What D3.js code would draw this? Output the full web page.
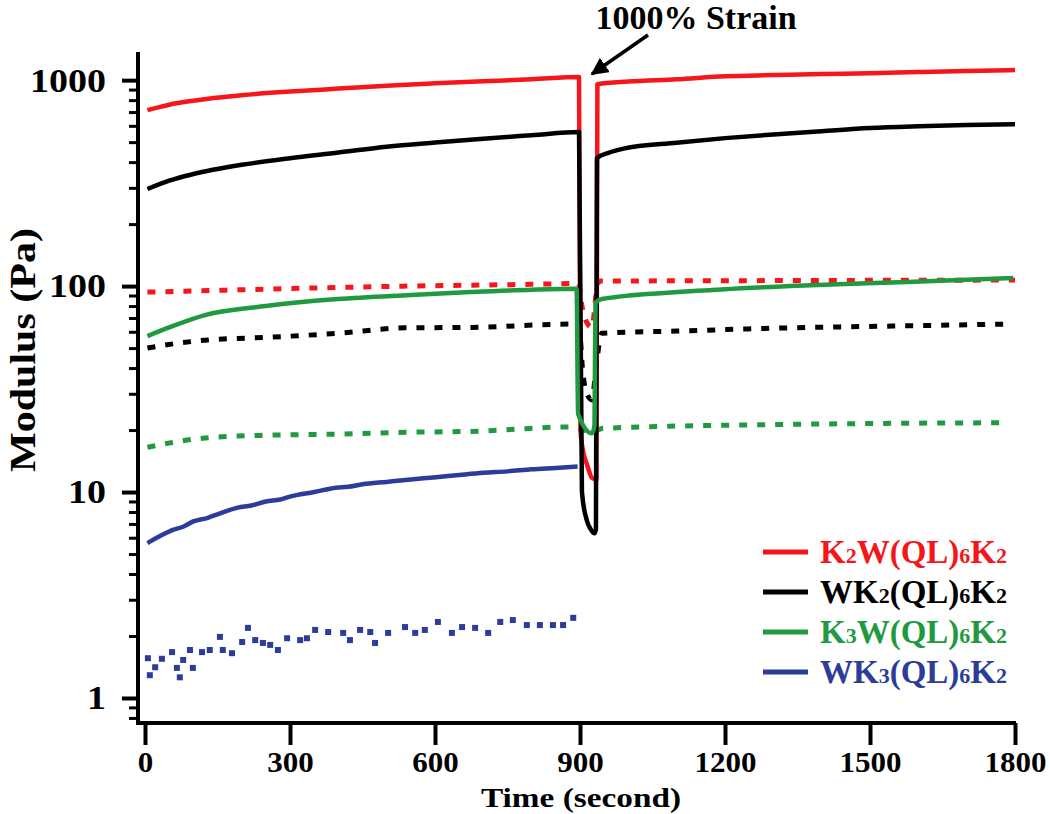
<!DOCTYPE html>
<html><head><meta charset="utf-8">
<script src="https://cdn.jsdelivr.net/npm/d3@7"></script>
<style>body{margin:0;background:#fff}svg{display:block}</style>
</head><body><svg id="c" width="1050" height="814"></svg>
<script>
// ---------- data ----------
const xTicks = [0, 300, 600, 900, 1200, 1500, 1800];
const yTicks = [1, 10, 100, 1000];
const yMinorTicks = [0.8, 0.9, 2, 3, 4, 5, 6, 7, 8, 9, 20, 30, 40, 50, 60, 70, 80, 90, 200, 300, 400, 500, 600, 700, 800, 900];
const legendLabels = ["K2W(QL)6K2", "WK2(QL)6K2", "K3W(QL)6K2", "WK3(QL)6K2"];
const colors = ["#f4161b", "#000000", "#1f9a40", "#2c3c99"];
const annotation = "1000% Strain";

// storage modulus G' (solid) and loss modulus G'' (dotted), [time s, Pa]
const K2W_G1 = [[5,715],[50,760],[100,795],[200,845],[300,880],[400,910],[500,940],[600,965],[700,988],[800,1010],[898,1035],
  [901,20],[906,16],[915,13.5],[925,11.7],[934,11.5],[936,956],[1000,985],[1100,1010],[1200,1045],[1300,1058],[1400,1070],[1500,1080],[1600,1095],[1700,1108],[1800,1120]];
const K2W_G2 = [[5,93.5],[200,96],[400,98.5],[600,100.5],[800,102],[897,103],[904,80],[915,66],[925,63],[933,90],[939,106],[1000,106],[1400,106.5],[1800,107]];
const WK2_G1 = [[5,296],[50,325],[100,350],[200,388],[300,418],[400,445],[500,475],[600,498],[700,520],[800,540],[898,560],
  [904,10],[914,7.3],[922,6.6],[930,6.3],[933,6.6],[935,418],[960,445],[990,465],[1100,497],[1200,523],[1300,545],[1400,565],[1500,585],[1600,597],[1700,606],[1800,611]];
const WK2_G2 = [[5,50],[60,52.5],[124,54.6],[261,56.5],[399,59],[538,62.7],[674,63],[881,65.4],[898,65],[905,40],[912,31],[925,28],[933,40],[945,59],[1100,60.5],[1334,62.7],[1550,64],[1790,65.4]];
const K3W_G1 = [[5,57.2],[50,63],[124,72.3],[250,80],[399,86.5],[550,90.5],[674,93.5],[800,96],[893,97],
  [896,24],[925,19.3],[930,21],[932,83],[945,86.5],[1128,94.3],[1334,100],[1577,104.8],[1796,109.4]];
const K3W_G2 = [[5,16.5],[124,18.3],[261,18.9],[399,19.1],[538,19.5],[674,19.7],[881,20.7],[925,19.6],[948,20.4],[1334,21.3],[1783,21.7]];
const WK3_G1 = [[5,5.65],[30,6.1],[54,6.5],[80,6.8],[100,7.2],[130,7.5],[150,7.8],[192,8.4],[220,8.6],[250,9.0],[280,9.2],[300,9.5],[350,10.0],[395,10.5],[420,10.6],[450,10.9],[500,11.2],[550,11.5],[602,11.8],[650,12.1],[700,12.4],[750,12.6],[800,12.9],[850,13.1],[895,13.3]];
const WK3_G2 = [[6,1.56],[10,1.29],[21,1.41],[35,1.55],[56,1.67],[66,1.40],[72,1.26],[79,1.53],[93,1.71],[99,1.40],[118,1.67],[134,1.71],[155,1.98],[161,1.71],[180,1.65],[201,1.87],[213,2.19],[228,1.91],[244,1.85],[259,1.81],[275,1.71],[294,1.95],[321,1.91],[335,1.95],[352,2.14],[379,2.09],[410,2.07],[424,1.91],[445,2.14],[466,2.09],[476,1.85],[503,2.07],[538,2.21],[559,2.07],[579,2.14],[606,2.34],[635,2.07],[656,2.21],[683,2.19],[710,2.07],[735,2.34],[761,2.39],[790,2.26],[817,2.26],[844,2.26],[865,2.26],[886,2.45]];

// ---------- chart ----------
const svg = d3.select("#c");
const font = "'Liberation Serif','Times New Roman',serif";
const x = d3.scaleLinear().domain([0, 1800]).range([145, 1015]);
const y = d3.scaleLog().domain([0.756, 1370]).range([723, 52]);

// axes
const yAxisMinor = d3.axisLeft(y).tickValues(yMinorTicks).tickSize(9).tickSizeOuter(0).tickFormat("");
const gYm = svg.append("g").attr("transform", "translate(138,0)").call(yAxisMinor);
gYm.select(".domain").remove();
gYm.selectAll("line").attr("stroke", "#000").attr("stroke-width", 3);

const yAxis = d3.axisLeft(y).tickValues(yTicks).tickSize(16).tickSizeOuter(0).tickPadding(16).tickFormat(d3.format("d"));
const gY = svg.append("g").attr("transform", "translate(138,0)").call(yAxis);
gY.select(".domain").remove();
gY.selectAll("line").attr("stroke", "#000").attr("stroke-width", 4);
gY.selectAll("text").attr("font-family", font).attr("font-weight", "bold").attr("font-size", 34).attr("fill", "#000")
  .attr("textLength", d => String(d).length * 19).attr("lengthAdjust", "spacingAndGlyphs");

const xAxis = d3.axisBottom(x).tickValues(xTicks).tickSize(22).tickSizeOuter(0).tickPadding(6).tickFormat(d3.format("d"));
const gX = svg.append("g").attr("transform", "translate(0,723)").call(xAxis);
gX.select(".domain").remove();
gX.selectAll("line").attr("stroke", "#000").attr("stroke-width", 4);
gX.selectAll("text").attr("font-family", font).attr("font-weight", "bold").attr("font-size", 29).attr("fill", "#000")
  .attr("textLength", d => String(d).length * 15.5).attr("lengthAdjust", "spacingAndGlyphs");

// axis lines
svg.append("line").attr("x1", 138).attr("x2", 138).attr("y1", y.range()[1]).attr("y2", 725)
  .attr("stroke", "#000").attr("stroke-width", 4);
svg.append("line").attr("x1", 136).attr("x2", x.range()[1] + 1).attr("y1", 723).attr("y2", 723)
  .attr("stroke", "#000").attr("stroke-width", 4);

// axis titles
svg.append("text").attr("x", 581).attr("y", 807).attr("text-anchor", "middle")
  .attr("font-family", font).attr("font-weight", "bold").attr("font-size", 28)
  .attr("textLength", 200).attr("lengthAdjust", "spacingAndGlyphs").text("Time (second)");
svg.append("text").attr("transform", "translate(35,350) rotate(-90)").attr("text-anchor", "middle")
  .attr("font-family", font).attr("font-weight", "bold").attr("font-size", 35)
  .attr("textLength", 244).attr("lengthAdjust", "spacingAndGlyphs").text("Modulus (Pa)");

// series
const line = d3.line().x(d => x(d[0])).y(d => y(d[1])).curve(d3.curveMonotoneX);
const dotted = [[K2W_G2, 0], [WK2_G2, 1], [K3W_G2, 2]];
dotted.forEach(([data, ci]) => {
  svg.append("path").datum(data).attr("d", line).attr("fill", "none")
    .attr("stroke", colors[ci]).attr("stroke-width", 5).attr("stroke-dasharray", "8,10");
});
const solid = [[K2W_G1, 0], [WK2_G1, 1], [K3W_G1, 2], [WK3_G1, 3]];
solid.forEach(([data, ci]) => {
  svg.append("path").datum(data).attr("d", line).attr("fill", "none")
    .attr("stroke", colors[ci]).attr("stroke-width", 4.5).attr("stroke-linejoin", "round");
});
svg.append("g").selectAll("rect").data(WK3_G2).join("rect")
  .attr("x", d => x(d[0]) - 3).attr("y", d => y(d[1]) - 3)
  .attr("width", 6).attr("height", 6).attr("fill", colors[3]);

// legend
const lg = svg.append("g");
legendLabels.forEach((lab, i) => {
  const yy = 552 + i * 40;
  lg.append("line").attr("x1", 763).attr("x2", 808).attr("y1", yy).attr("y2", yy)
    .attr("stroke", colors[i]).attr("stroke-width", 5);
  const t = lg.append("text").attr("x", 820).attr("y", yy + 11).attr("fill", colors[i])
    .attr("font-family", font).attr("font-weight", "bold").attr("font-size", 33);
  lab.split(/(\d)/).filter(s => s.length).forEach(s => {
    if (/\d/.test(s)) t.append("tspan").attr("font-size", 22).text(s);
    else t.append("tspan").text(s);
  });
});

// annotation
svg.append("defs").append("marker").attr("id", "ah").attr("viewBox", "0 0 10 10")
  .attr("refX", 9).attr("refY", 5).attr("markerWidth", 5).attr("markerHeight", 5)
  .attr("markerUnits", "strokeWidth").attr("orient", "auto")
  .append("path").attr("d", "M0,0 L10,5 L0,10 z").attr("fill", "#000");
svg.append("line").attr("x1", 648).attr("y1", 35).attr("x2", 592).attr("y2", 74)
  .attr("stroke", "#000").attr("stroke-width", 3.5).attr("marker-end", "url(#ah)");
svg.append("text").attr("x", 696).attr("y", 29).attr("text-anchor", "middle")
  .attr("font-family", font).attr("font-weight", "bold").attr("font-size", 34).text(annotation);
</script></body></html>
